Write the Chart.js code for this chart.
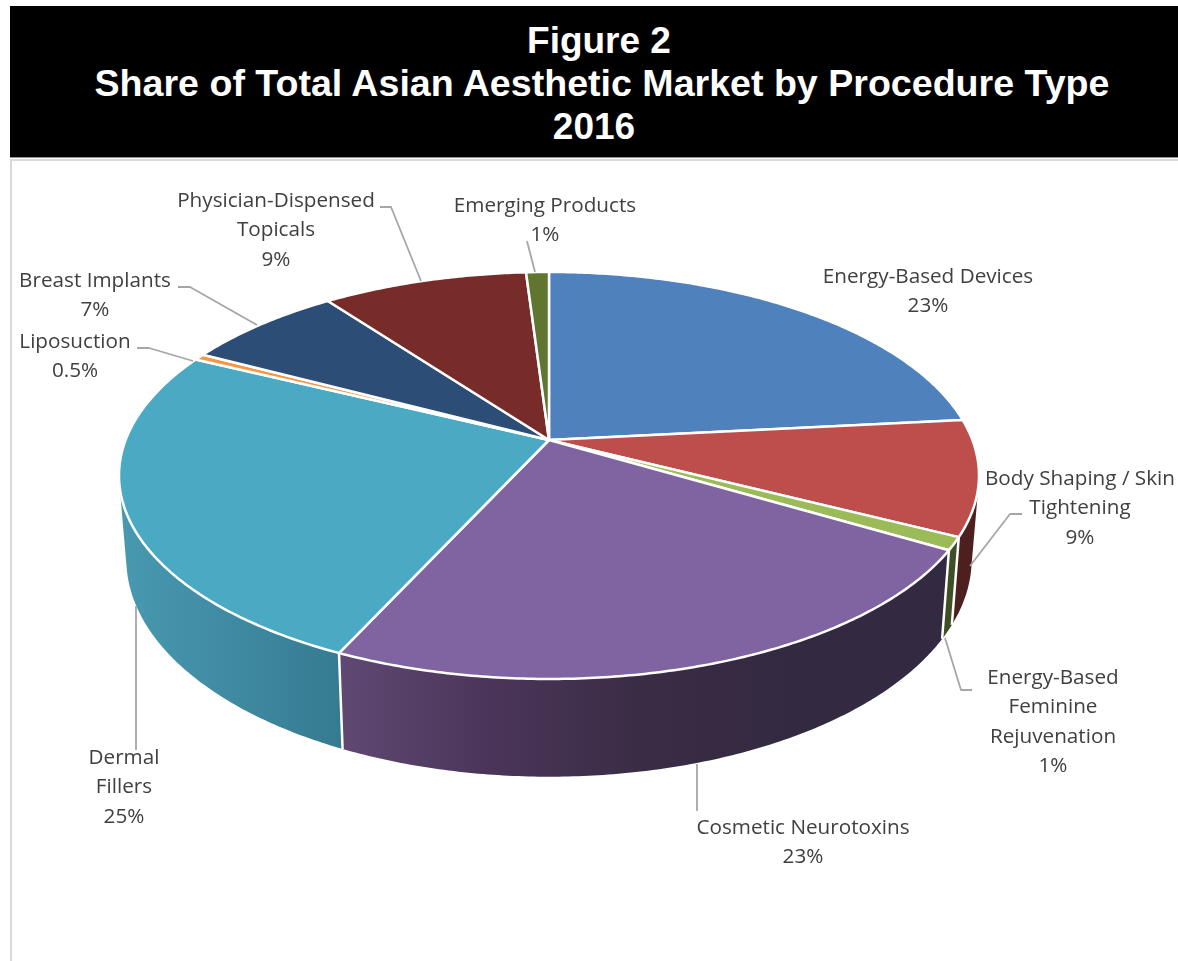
<!DOCTYPE html>
<html>
<head>
<meta charset="utf-8">
<title>Asian Aesthetic Market 2016</title>
<script src="https://cdn.jsdelivr.net/npm/chart.js@4"></script>
<style>
    html, body { margin: 0; padding: 0; background: #fff; overflow: hidden; }
    #page { position: relative; width: 1178px; height: 961px; }
    #banner {
        position: absolute; left: 10px; top: 6px; width: 1168px; height: 151px;
        background: #000; color: #fff; text-align: center;
        font: bold 37px/43px "Liberation Sans", Arial, sans-serif;
        padding-top: 13px; box-sizing: border-box;
    }
    #banner span { position: relative; display: inline-block; }
    #line1 { left: 5px; }
    #line2 { left: 8px; font-size: 37.6px; }
    #rule { position: absolute; left: 10px; top: 157px; width: 1168px; height: 1px; background: #8c8c8c; }
    #frame {
        position: absolute; left: 10px; top: 159px; width: 1168px; height: 802px;
        border-left: 2px solid #d9d9d9; border-top: 2px solid #d9d9d9; box-sizing: border-box;
    }
    canvas { position: absolute; left: 0; top: 0; }
</style>
</head>
<body>
<div id="page">
    <div id="banner"><span id="line1">Figure 2</span><br><span id="line2">Share of Total Asian Aesthetic Market by Procedure Type</span><br><span>2016</span></div>
    <div id="rule"></div>
    <div id="frame"></div>
    <canvas id="chart" width="1178" height="961"></canvas>
</div>
<script>
const categories = [
    'Energy-Based Devices', 'Body Shaping / Skin Tightening', 'Energy-Based Feminine Rejuvenation',
    'Cosmetic Neurotoxins', 'Dermal Fillers', 'Liposuction', 'Breast Implants',
    'Physician-Dispensed Topicals', 'Emerging Products'
];
const shares = [23, 9, 1, 23, 25, 0.5, 7, 9, 1];
const topColors = ['#4f81bd', '#bd4e4b', '#9bbb59', '#8064a2', '#4aa9c3', '#f79646', '#2c4d75', '#772c2a', '#5f7530'];

// side wall shading, left to right across each wall
const wallStops = [
    ['#2f4d71'],
    ['#4e1f1f'],
    ['#3f4f25'],
    ['#5f4872', '#4a3559', '#3a2c45', '#332a41', '#332a41'],
    ['#4798af', '#3f8aa2', '#357a90'],
    ['#94591f'],
    ['#1a2e46'],
    ['#471a19'],
    ['#39461d']
];

// text lines and leader polylines for each slice
const labelLines = [
    ['Energy-Based Devices', '23%'],
    ['Body Shaping / Skin', 'Tightening', '9%'],
    ['Energy-Based', 'Feminine', 'Rejuvenation', '1%'],
    ['Cosmetic Neurotoxins', '23%'],
    ['Dermal', 'Fillers', '25%'],
    ['Liposuction', '0.5%'],
    ['Breast Implants', '7%'],
    ['Physician-Dispensed', 'Topicals', '9%'],
    ['Emerging Products', '1%']
];
const labelCenters = [[928, 277], [1080, 479], [1053, 678], [803, 828], [124, 758], [75, 342], [95, 281], [276, 201], [545, 206]];
const leaders = [
    null,
    [[1022, 514], [1010, 514], [970, 566]],
    [[972, 690], [961, 690], [945, 638]],
    [[697, 764], [697, 811]],
    [[136, 606], [136, 750]],
    [[137, 348], [149, 348], [193, 361]],
    [[178, 287], [190, 287], [257, 325]],
    [[380, 207], [391, 207], [421, 281]],
    [[527, 241], [535, 272]]
];

// perspective of the disc on the page
const cx = 549, cy = 440, spreadX = 423.4, spreadY = 197.3, tilt = 0.1744;
const wallX = 0.983, wallY = 1.07, wallDrop = 81;

function topPoint(angle) {
    const u = Math.cos(angle), v = Math.sin(angle);
    const d = 1 - tilt * v;
    return [cx + spreadX * u / d, cy + spreadY * v / d];
}
function wallPoint(angle) {
    const p = topPoint(angle);
    return [cx + (p[0] - cx) * wallX, cy + (p[1] - cy) * wallY + wallDrop];
}
function arcAngles(arc) {
    const list = [];
    const steps = Math.max(2, Math.ceil((arc.endAngle - arc.startAngle) / 0.01));
    for (let i = 0; i <= steps; i++) {
        list.push(arc.startAngle + (arc.endAngle - arc.startAngle) * i / steps);
    }
    return list;
}

function drawWall(ctx, arc, stops) {
    const angles = arcAngles(arc);
    const xs = angles.map(a => wallPoint(a)[0]);
    const grad = ctx.createLinearGradient(Math.min(...xs), 0, Math.max(...xs), 0);
    stops.forEach((c, i) => grad.addColorStop(stops.length > 1 ? i / (stops.length - 1) : 0, c));
    ctx.fillStyle = grad;
    // one path, every quad wound the same way, so there are no seams and the fold stays filled
    ctx.beginPath();
    for (let i = 0; i < angles.length - 1; i++) {
        let quad = [topPoint(angles[i]), topPoint(angles[i + 1]), wallPoint(angles[i + 1]), wallPoint(angles[i])];
        let area = 0;
        quad.forEach((p, j) => {
            const n = quad[(j + 1) % 4];
            area += p[0] * n[1] - n[0] * p[1];
        });
        if (area < 0) quad = quad.reverse();
        quad.forEach((p, j) => j ? ctx.lineTo(p[0], p[1]) : ctx.moveTo(p[0], p[1]));
        ctx.closePath();
    }
    ctx.fill();
}

function drawSlice(ctx, arc, color) {
    ctx.beginPath();
    ctx.moveTo(cx, cy);
    arcAngles(arc).forEach(a => {
        const p = topPoint(a);
        ctx.lineTo(p[0], p[1]);
    });
    ctx.closePath();
    ctx.fillStyle = color;
    ctx.fill();
    ctx.strokeStyle = '#fff';
    ctx.lineWidth = 2.5;
    ctx.lineJoin = 'round';
    ctx.stroke();
}

function drawLabels(ctx) {
    ctx.strokeStyle = '#a6a6a6';
    ctx.lineWidth = 1.8;
    leaders.forEach(line => {
        if (!line) return;
        ctx.beginPath();
        line.forEach((p, i) => i ? ctx.lineTo(p[0], p[1]) : ctx.moveTo(p[0], p[1]));
        ctx.stroke();
    });
    ctx.fillStyle = '#404040';
    ctx.font = '20.7px "Open Sans"';
    ctx.textAlign = 'center';
    ctx.textBaseline = 'middle';
    labelLines.forEach((lines, i) => {
        lines.forEach((t, j) => ctx.fillText(t, labelCenters[i][0], labelCenters[i][1] + j * 29.4));
    });
}

// replaces the flat pie drawing with a tilted disc built from the arc angles
const tiltedPie = {
    id: 'tiltedPie',
    beforeDatasetsDraw(chart) {
        const ctx = chart.ctx;
        const arcs = chart.getDatasetMeta(0).data;
        ctx.save();
        const order = arcs.map((a, i) => i).sort((p, q) =>
            Math.sin((arcs[p].startAngle + arcs[p].endAngle) / 2) - Math.sin((arcs[q].startAngle + arcs[q].endAngle) / 2));
        order.forEach(i => drawWall(ctx, arcs[i], wallStops[i]));

        // white seams between walls on the near side
        ctx.strokeStyle = '#fff';
        ctx.lineWidth = 2.5;
        arcs.forEach(arc => {
            if (Math.sin(arc.startAngle) > 0.2) {
                const a = topPoint(arc.startAngle), b = wallPoint(arc.startAngle);
                ctx.beginPath();
                ctx.moveTo(a[0], a[1]);
                ctx.lineTo(b[0], b[1]);
                ctx.stroke();
            }
        });

        arcs.forEach((arc, i) => drawSlice(ctx, arc, topColors[i]));
        drawLabels(ctx);
        ctx.restore();
        return false;
    }
};

new Chart(document.getElementById('chart').getContext('2d'), {
    type: 'pie',
    data: {
        labels: categories,
        datasets: [{ data: shares, backgroundColor: topColors }]
    },
    options: {
        responsive: false,
        animation: false,
        plugins: { legend: { display: false }, tooltip: { enabled: false } }
    },
    plugins: [tiltedPie]
});
</script>
</body>
</html>
